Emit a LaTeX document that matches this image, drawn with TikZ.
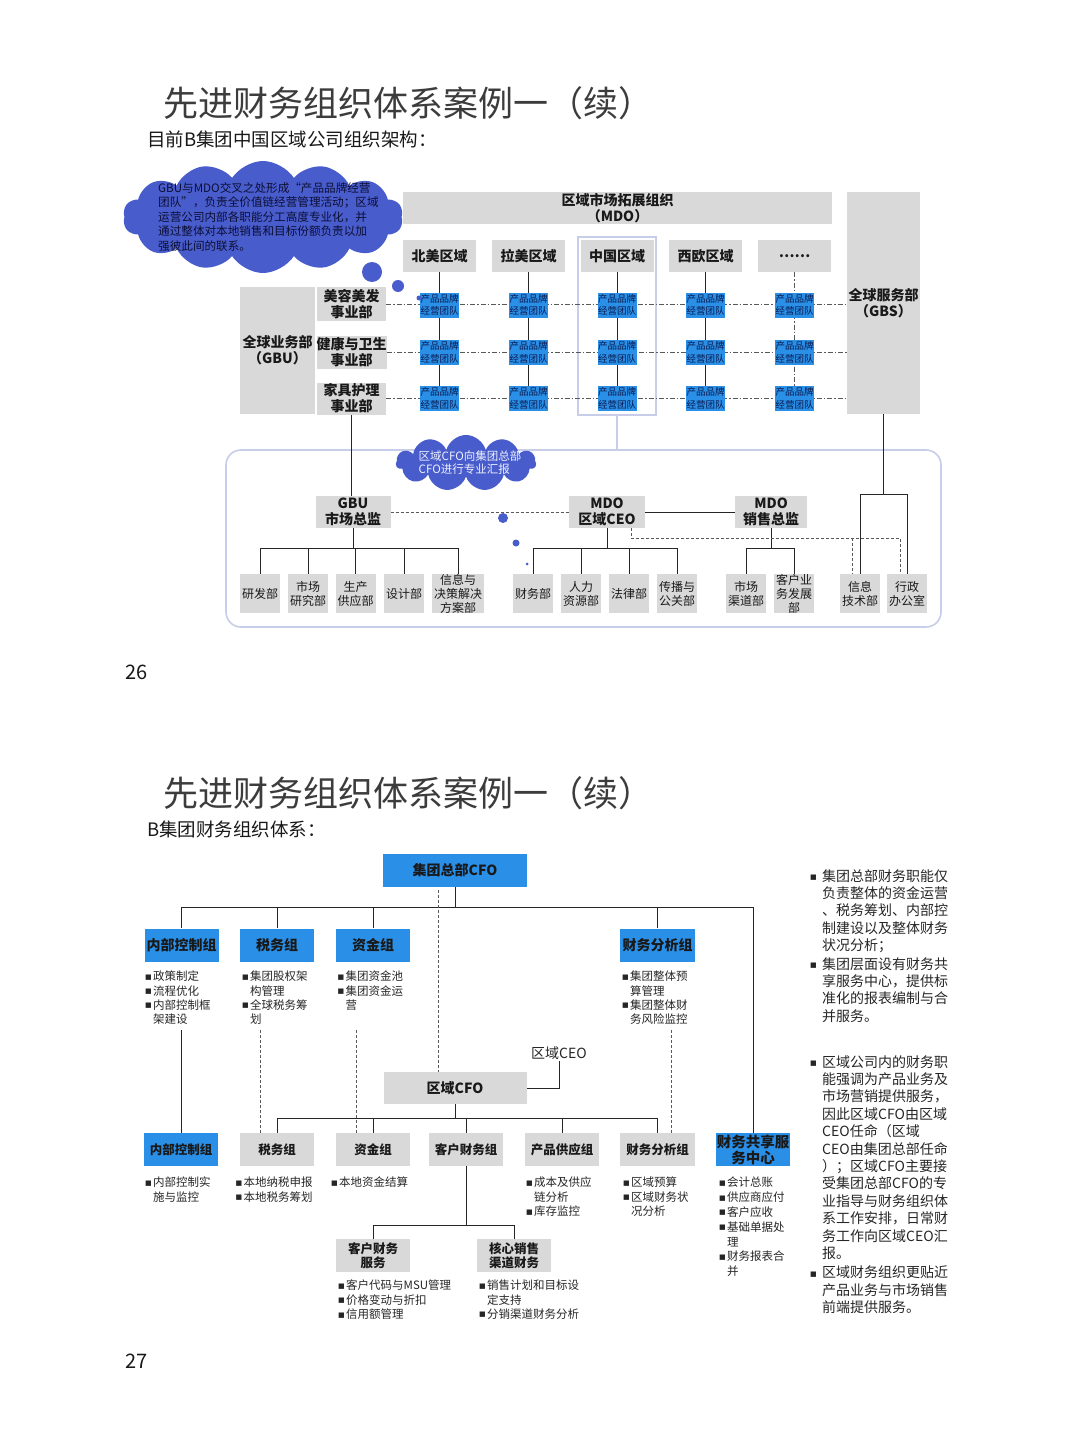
\documentclass[tikz,border=0pt]{standalone}
\usepackage{fontspec}
\setmainfont{Noto Sans CJK SC}
\newfontfamily\dejavu{DejaVu Sans}
\usetikzlibrary{shapes.symbols}
\definecolor{boxgray}{HTML}{D9D9D9}
\definecolor{boxblue}{HTML}{2A8FE6}
\definecolor{cloudblue}{HTML}{485CCC}
\definecolor{lav}{HTML}{C8CDEA}
\definecolor{brandtext}{HTML}{0A1A50}
\definecolor{cloudtexta}{HTML}{0C0F35}
\definecolor{cloudtextb}{HTML}{EEF1FF}
\definecolor{titlec}{HTML}{3C3C3C}
\pgfdeclarelayer{paper}
\pgfdeclarelayer{bg}
\pgfsetlayers{paper,bg,main}
\newcommand{\mybul}[1][8pt]{\makebox[#1][l]{\raisebox{0.25ex}{\dejavu\fontsize{7}{7}\selectfont ■}}}
\newcommand{\myind}[1][8pt]{\hspace*{#1}}
\begin{document}
\begin{tikzpicture}[x=1pt,y=-1pt,
 gb/.style={fill=boxgray, inner sep=0pt, align=center, text=black!90},
 bb/.style={fill=boxblue, inner sep=0pt, align=center, text=black!90},
 f14/.style={font=\bfseries\fontsize{14}{16}\selectfont},
 f125/.style={font=\bfseries\fontsize{12.5}{14}\selectfont},
 brand/.style={bb, minimum width=39pt, minimum height=25pt, text=brandtext, font=\fontsize{9.5}{12.5}\selectfont},
 dept/.style={gb, minimum width=40pt, minimum height=39pt, font=\fontsize{12}{14}\selectfont},
 ln/.style={draw=black!85, line width=1pt},
 dln/.style={draw=black!65, line width=0.9pt, dash pattern=on 3pt off 2pt},
 ddl/.style={draw=black!65, line width=0.9pt, dash pattern=on 5pt off 2pt on 1.5pt off 2pt},
 lavl/.style={draw=lav, line width=1.6pt},
 lst/.style={anchor=north west, inner sep=0pt, align=left, font=\fontsize{11.5}{14.3}\selectfont, text=black!85},
 rcol/.style={anchor=north west, inner sep=0pt, align=left, font=\fontsize{14}{17.4}\selectfont, text=black!85},
 bub/.style={circle, fill=cloudblue, inner sep=0pt},
]
\begin{pgfonlayer}{paper}
\path[use as bounding box, fill=white] (0,0) rectangle (1080,1439);
\end{pgfonlayer}

%================ PAGE 26 =================
\node[anchor=west,inner sep=0pt,font=\fontsize{35}{35}\selectfont,text=titlec] (ti1) at (163,103) {先进财务组织体系案例一（续）};
\node[anchor=west,inner sep=0pt,font=\fontsize{18.5}{20}\selectfont,text=black!90] (su1) at (147,139) {目前B集团中国区域公司组织架构：};

\node[cloud, cloud puffs=14, cloud puff arc=115, cloud ignores aspect, fill=cloudblue, minimum width=280pt, minimum height=112pt, inner sep=0pt] (cl1) at (263,217) {};
\node[anchor=north west, inner sep=0pt, align=left, text=cloudtexta, font=\fontsize{11.6}{14.5}\selectfont] (cl1t) at (158,182) {GBU与MDO交叉之处形成“产品品牌经营\\团队”，负责全价值链经营管理活动；区域\\运营公司内部各职能分工高度专业化，并\\通过整体对本地销售和目标份额负责以加\\强彼此间的联系。};
\node[bub, minimum size=20pt] (bu1) at (372,272) {};
\node[bub, minimum size=12pt] (bu2) at (398,286) {};

\node[gb, f14, minimum width=429pt, minimum height=32pt] (mdo) at (617.5,208) {区域市场拓展组织\\（MDO）};
\node[gb, f14, minimum width=73pt, minimum height=32pt] (r1) at (439.5,256) {北美区域};
\node[gb, f14, minimum width=73pt, minimum height=32pt] (r2) at (528.5,256) {拉美区域};
\node[gb, f14, minimum width=73pt, minimum height=32pt] (r3) at (617,256) {中国区域};
\node[gb, f14, minimum width=73pt, minimum height=32pt] (r4) at (705.5,256) {西欧区域};
\node[gb, f14, minimum width=73pt, minimum height=32pt] (r5) at (794.5,256) {……};
\node[gb, f14, minimum width=73pt, minimum height=222pt] (gbs) at (883.5,303) {全球服务部\\（GBS）};
\node[gb, f14, minimum width=75pt, minimum height=127pt] (gbu) at (277.5,350.5) {全球业务部\\（GBU）};
\node[gb, f14, minimum width=69pt, minimum height=34pt] (d1) at (351.5,304) {美容美发\\事业部};
\node[gb, f14, minimum width=69pt, minimum height=33pt] (d2) at (351.5,352) {健康与卫生\\事业部};
\node[gb, f14, minimum width=69pt, minimum height=32pt] (d3) at (351.5,398.5) {家具护理\\事业部};

\foreach \c/\x in {1/439.5,2/528.5,3/617,4/705.5,5/794.5}{
  \foreach \r/\y in {1/305,2/352.5,3/398.5}{
    \node[brand] (b\r\c) at (\x,\y) {产品品牌\\经营团队};
  }
}
\node[bub, minimum size=5pt] (bu3) at (419,298) {};

% bottom part of page 26
\node[cloud, cloud puffs=11, cloud ignores aspect, fill=cloudblue, minimum width=140pt, minimum height=56pt, inner sep=0pt] (cl2) at (466,463) {};
\node[align=left, inner sep=0pt, text=cloudtextb, font=\fontsize{11.5}{13}\selectfont] (cl2t) at (470,463) {区域CFO向集团总部\\CFO进行专业汇报};
\node[bub, minimum size=10pt] (bu4) at (503,518) {};
\node[bub, minimum size=7pt] (bu5) at (516,543) {};
\node[bub, minimum size=3pt] (bu6) at (527,564) {};

\node[gb, f14, minimum width=75pt, minimum height=32pt] (gbum) at (353,512) {GBU\\市场总监};
\node[gb, f14, minimum width=76pt, minimum height=32pt] (ceo) at (607,512) {MDO\\区域CEO};
\node[gb, f14, minimum width=72pt, minimum height=32pt] (sal) at (771,512) {MDO\\销售总监};

\node[dept] (da1) at (260,593.5) {研发部};
\node[dept] (da2) at (308,593.5) {市场\\研究部};
\node[dept] (da3) at (355.5,593.5) {生产\\供应部};
\node[dept] (da4) at (404,593.5) {设计部};
\node[dept, minimum width=52pt] (da5) at (458,593.5) {信息与\\决策解决\\方案部};
\node[dept] (db1) at (533,593.5) {财务部};
\node[dept] (db2) at (581,593.5) {人力\\资源部};
\node[dept] (db3) at (629,593.5) {法律部};
\node[dept] (db4) at (677,593.5) {传播与\\公关部};
\node[dept] (dc1) at (746,593.5) {市场\\渠道部};
\node[dept] (dc2) at (794,593.5) {客户业\\务发展\\部};
\node[dept] (dd1) at (860,593.5) {信息\\技术部};
\node[dept] (dd2) at (907,593.5) {行政\\办公室};

\node[anchor=west,inner sep=0pt,font=\fontsize{20}{20}\selectfont,text=black!90] (pn1) at (125,672) {26};

%================ PAGE 27 =================
\node[anchor=west,inner sep=0pt,font=\fontsize{35}{35}\selectfont,text=titlec] (ti2) at (163,793) {先进财务组织体系案例一（续）};
\node[anchor=west,inner sep=0pt,font=\fontsize{18.5}{20}\selectfont,text=black!90] (su2) at (147,829) {B集团财务组织体系：};

\node[bb, f14, minimum width=144pt, minimum height=33pt] (cfo) at (455,870) {集团总部CFO};
\node[bb, f14, minimum width=74pt, minimum height=33pt] (ta1) at (181.5,945) {内部控制组};
\node[bb, f14, minimum width=74pt, minimum height=33pt] (ta2) at (277,945) {税务组};
\node[bb, f14, minimum width=74pt, minimum height=33pt] (ta3) at (373,945) {资金组};
\node[bb, f14, minimum width=75pt, minimum height=33pt] (ta4) at (657.5,945) {财务分析组};

\node[lst] (la1) at (145,971) {\mybul 政策制定\\\mybul 流程优化\\\mybul 内部控制框\\\myind 架建设};
\node[lst] (la2) at (242,971) {\mybul 集团股权架\\\myind 构管理\\\mybul 全球税务筹\\\myind 划};
\node[lst] (la3) at (337.5,971) {\mybul 集团资金池\\\mybul 集团资金运\\\myind 营};
\node[lst] (la4) at (622,971) {\mybul 集团整体预\\\myind 算管理\\\mybul 集团整体财\\\myind 务风险监控};

\node[gb, f14, minimum width=143pt, minimum height=32pt] (rcfo) at (455,1088) {区域CFO};
\node[inner sep=1pt, font=\fontsize{14}{16}\selectfont, text=black!85] (rceo) at (559,1053) {区域CEO};

\node[bb, f125, minimum width=74pt, minimum height=33pt] (qb1) at (181,1149.5) {内部控制组};
\node[gb, f125, minimum width=74pt, minimum height=33pt] (qb2) at (277,1149.5) {税务组};
\node[gb, f125, minimum width=74pt, minimum height=33pt] (qb3) at (373,1149.5) {资金组};
\node[gb, f125, minimum width=74pt, minimum height=33pt] (qb4) at (466,1149.5) {客户财务组};
\node[gb, f125, minimum width=74pt, minimum height=33pt] (qb5) at (562,1149.5) {产品供应组};
\node[gb, f125, minimum width=75pt, minimum height=33pt] (qb6) at (657.5,1149.5) {财务分析组};
\node[bb, minimum width=74pt, minimum height=33pt, font=\bfseries\fontsize{14.5}{16}\selectfont] (qb7) at (753,1149.5) {财务共享服\\务中心};

\node[lst] (lb1) at (145,1177) {\mybul 内部控制实\\\myind 施与监控};
\node[lst] (lb2) at (235.5,1177) {\mybul 本地纳税申报\\\mybul 本地税务筹划};
\node[lst] (lb3) at (331,1177) {\mybul 本地资金结算};
\node[lst] (lb5) at (526,1177) {\mybul 成本及供应\\\myind 链分析\\\mybul 库存监控};
\node[lst] (lb6) at (623,1177) {\mybul 区域预算\\\mybul 区域财务状\\\myind 况分析};
\node[lst, font=\fontsize{11.5}{14.8}\selectfont] (lb7) at (719,1177) {\mybul 会计总账\\\mybul 供应商应付\\\mybul 客户应收\\\mybul 基础单据处\\\myind 理\\\mybul 财务报表合\\\myind 并};

\node[gb, f125, minimum width=74pt, minimum height=33pt] (qc1) at (373,1255.5) {客户财务\\服务};
\node[gb, f125, minimum width=74pt, minimum height=33pt] (qc2) at (514,1255.5) {核心销售\\渠道财务};
\node[lst] (lc1) at (338,1280) {\mybul 客户代码与MSU管理\\\mybul 价格变动与折扣\\\mybul 信用额管理};
\node[lst] (lc2) at (479,1280) {\mybul 销售计划和目标设\\\myind 定支持\\\mybul 分销渠道财务分析};

\node[rcol] (p1) at (810,869) {\mybul[12pt]集团总部财务职能仅\\\myind[12pt]负责整体的资金运营\\\myind[12pt]、税务筹划、内部控\\\myind[12pt]制建设以及整体财务\\\myind[12pt]状况分析；};
\node[rcol] (p2) at (810,957) {\mybul[12pt]集团层面设有财务共\\\myind[12pt]享服务中心，提供标\\\myind[12pt]准化的报表编制与合\\\myind[12pt]并服务。};
\node[rcol] (p3) at (810,1055) {\mybul[12pt]区域公司内的财务职\\\myind[12pt]能强调为产品业务及\\\myind[12pt]市场营销提供服务，\\\myind[12pt]因此区域CFO由区域\\\myind[12pt]CEO任命（区域\\\myind[12pt]CEO由集团总部任命\\\myind[12pt]）；区域CFO主要接\\\myind[12pt]受集团总部CFO的专\\\myind[12pt]业指导与财务组织体\\\myind[12pt]系工作安排，日常财\\\myind[12pt]务工作向区域CEO汇\\\myind[12pt]报。};
\node[rcol] (p4) at (810,1266) {\mybul[12pt]区域财务组织更贴近\\\myind[12pt]产品业务与市场销售\\\myind[12pt]前端提供服务。};

\node[anchor=west,inner sep=0pt,font=\fontsize{20}{20}\selectfont,text=black!90] (pn2) at (125,1361) {27};

%================ CONNECTORS (background) =================
\begin{pgfonlayer}{bg}
\node[draw=lav, line width=1.6pt, minimum width=78pt, minimum height=178pt, inner sep=0pt] (cnbox) at (617,326) {};
\node[draw=lav, line width=1.6pt, rounded corners=15pt, minimum width=715pt, minimum height=177pt, inner sep=0pt] (big) at (583.5,538.5) {};
\draw[lavl] (cnbox.south) -- (cnbox.south |- big.north);

\foreach \c in {1,2,3,4} \draw[ln] (r\c.south) -- (b3\c.north);
\draw[ddl] (r5.south) -- (b35.north);
\foreach \r in {1,2,3} \draw[ddl] (d\r.east) -- (d\r.east -| gbs.west);
\draw[ln] (d3.south) -- (d3.south |- gbum.north);

\coordinate (gbsJ) at (883.5,494);
\draw[ln] (gbs.south) -- (gbs.south |- gbsJ);
\draw[ln] (dd1.north) -- (dd1.north |- gbsJ) -- (dd2.north |- gbsJ) -- (dd2.north);

\draw[dln] (gbum.east) -- (ceo.west);
\draw[ln] (ceo.east) -- (sal.west);

\coordinate (busA) at (353,548);
\draw[ln] (gbum.south) -- (gbum.south |- busA);
\draw[ln] (da1.north) -- (da1.north |- busA) -- (da5.north |- busA) -- (da5.north);
\foreach \i in {2,3,4} \draw[ln] (da\i.north) -- (da\i.north |- busA);
\draw[ln] (ceo.south) -- (ceo.south |- busA);
\draw[ln] (db1.north) -- (db1.north |- busA) -- (db4.north |- busA) -- (db4.north);
\foreach \i in {2,3} \draw[ln] (db\i.north) -- (db\i.north |- busA);
\draw[ln] (sal.south) -- (sal.south |- busA);
\draw[ln] (dc1.north) -- (dc1.north |- busA) -- (dc2.north |- busA) -- (dc2.north);

\coordinate (dshA) at (631,538);
\coordinate (dd1t) at ([xshift=-8pt]dd1.north);
\coordinate (dd2t) at ([xshift=-7pt]dd2.north);
\draw[dln] (dshA |- ceo.south) -- (dshA) -- (dd2t |- dshA) -- (dd2t);
\draw[dln] (dd1t |- dshA) -- (dd1t);

% page 27
\coordinate (busT) at (455,907);
\draw[ln] (cfo.south) -- (cfo.south |- busT);
\draw[ln] (ta1.north) -- (ta1.north |- busT) -- (qb7.north |- busT) -- (qb7.north);
\foreach \i in {2,3,4} \draw[ln] (ta\i.north) -- (ta\i.north |- busT);
\coordinate (dT) at (438,890);
\draw[dln] (dT) -- (dT |- rcfo.north);
\coordinate (v1) at (181,1030);
\coordinate (v2) at (260,1030);
\coordinate (v3) at (356,1030);
\coordinate (v4) at (671,1030);
\draw[ln] (v1) -- (v1 |- qb1.north);
\draw[dln] (v2) -- (v2 |- qb2.north);
\draw[dln] (v3) -- (v3 |- qb3.north);
\draw[dln] (v4) -- (v4 |- qb6.north);
\draw[ln] (rcfo.east) -| (rceo.south);
\coordinate (busB) at (455,1118);
\draw[ln] (rcfo.south) -- (rcfo.south |- busB);
\draw[ln] (qb2.north) -- (qb2.north |- busB) -- (qb6.north |- busB) -- (qb6.north);
\foreach \i in {3,4,5} \draw[ln] (qb\i.north) -- (qb\i.north |- busB);
\coordinate (busC) at (466,1225);
\draw[ln] (qb4.south) -- (qb4.south |- busC);
\draw[ln] (qc1.north) -- (qc1.north |- busC) -- (qc2.north |- busC) -- (qc2.north);
\end{pgfonlayer}
\end{tikzpicture}
\end{document}
